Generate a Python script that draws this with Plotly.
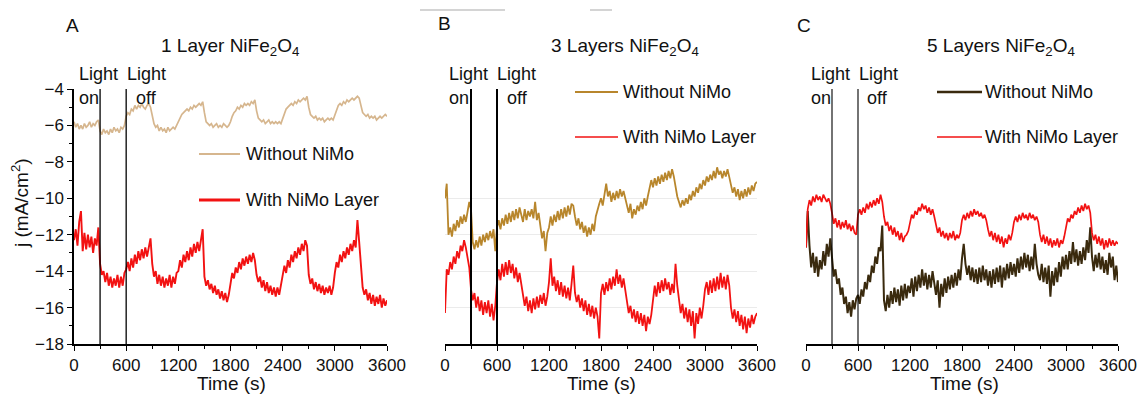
import plotly.graph_objects as go

W, H = 1140, 394

# ---------------- data ----------------
t = list(range(0, 3601, 20))  # time (s), 20 s sampling
light_on, light_off = 300, 600
x_ticks = [0, 600, 1200, 1800, 2400, 3000, 3600]
y_ticks = [-18, -16, -14, -12, -10, -8, -6, -4]

# Panel A: 1 Layer NiFe2O4
a_without = [
    -5.8, -6.1, -5.9, -6.2, -6.0, -6.2, -5.9, -6.1, -6.0, -5.8, -6.1, -5.9, -6.0, -5.8, -5.7,
    -6.3, -6.5, -6.2, -6.4, -6.3, -6.5, -6.2, -6.4, -6.1, -6.3, -6.2, -6.4, -6.1, -6.2, -6.0,
    -5.5, -5.3, -5.4, -5.1, -5.2, -4.9, -5.1, -4.9, -5.0, -4.8, -5.0, -5.1, -4.9, -4.8, -5.0,
    -5.5, -5.9, -6.1, -6.0, -6.3, -6.1, -6.3, -6.2, -6.4, -6.1, -6.3, -6.2, -6.1, -6.2, -6.0,
    -5.8, -5.6, -5.4, -5.3, -5.2, -5.1, -5.2, -5.0, -5.1, -4.9, -5.0, -4.9, -4.8, -4.9, -4.7,
    -5.3, -5.8, -5.9, -6.0, -5.9, -6.1, -6.0, -5.9, -6.1, -6.0, -6.1, -5.9, -6.0, -6.1, -6.0,
    -5.8, -5.5, -5.3, -5.2, -5.0, -5.1, -4.9, -5.0, -4.8, -4.9, -4.8, -4.9, -4.7, -4.8, -4.6,
    -5.2, -5.6, -5.7, -5.8, -5.7, -5.9, -5.8, -5.7, -5.9, -5.8, -5.9, -5.8, -5.9, -5.8, -5.9,
    -5.6, -5.3, -5.1, -5.0, -4.9, -4.8, -4.9, -4.7, -4.8, -4.6, -4.7, -4.6, -4.5, -4.6, -4.4,
    -5.0, -5.4, -5.5, -5.6, -5.5, -5.7, -5.6, -5.7, -5.6, -5.8, -5.7, -5.6, -5.7, -5.6, -5.7,
    -5.4, -5.1, -4.9, -4.8, -4.9, -4.7, -4.8, -4.6, -4.7, -4.6, -4.5, -4.6, -4.5, -4.4, -4.5,
    -4.9, -5.3, -5.4, -5.5, -5.4, -5.6, -5.5, -5.6, -5.5, -5.7, -5.6, -5.5, -5.6, -5.5, -5.4,
    -5.5,
]
a_with = [
    -12.3, -11.7, -12.6, -11.3, -10.7, -12.9, -11.9, -12.8, -12.0, -12.7, -12.1, -13.0, -12.2, -12.6, -11.6,
    -13.6, -14.2, -14.0, -14.6, -14.1, -14.8, -14.3, -14.9, -14.4, -14.8, -14.2, -14.9, -14.3, -14.8, -14.1,
    -13.9, -13.5, -14.0, -13.3, -13.8, -13.1, -13.6, -12.9, -13.4, -12.8, -13.3, -12.7, -13.2, -12.6, -12.2,
    -13.6, -14.3, -14.0, -14.7, -14.2, -14.8, -14.3, -14.9, -14.4, -14.8, -14.2, -14.9, -14.3, -14.7, -14.1,
    -14.0, -13.4, -13.8, -13.1, -13.5, -12.9, -13.4, -12.7, -13.2, -12.5, -13.0, -12.4, -12.9, -12.3, -11.7,
    -14.3, -14.8, -14.5, -15.0, -14.7, -15.2, -14.8, -15.3, -15.0, -15.5, -15.1, -15.6, -15.2, -15.7, -15.3,
    -14.6, -14.1, -14.4, -13.8, -14.1, -13.5, -13.9, -13.3, -13.7, -13.2, -13.6, -13.1, -13.5, -13.0, -13.4,
    -14.2, -14.6, -14.3, -14.9, -14.5, -15.1, -14.6, -15.2, -14.8, -15.3, -14.9, -15.4, -14.9, -15.3, -14.8,
    -14.3, -13.7, -14.1, -13.4, -13.8, -13.1, -13.5, -12.9, -13.3, -12.7, -13.1, -12.5, -12.9, -12.3, -12.6,
    -14.2, -14.7, -14.4, -15.0, -14.6, -15.1, -14.7, -15.2, -14.8, -15.3, -14.9, -15.2, -14.8, -15.3, -14.9,
    -14.1, -13.5, -13.8, -13.1, -13.5, -12.9, -13.3, -12.7, -13.1, -12.5, -12.9, -12.3, -12.7, -11.2, -12.4,
    -13.5, -14.9, -15.3, -15.0, -15.6, -15.2, -15.8, -15.3, -15.9, -15.4, -15.8, -15.3, -16.0, -15.5, -15.9,
    -15.6,
]

# Panel B: 3 Layers NiFe2O4
b_without = [
    -10.0, -9.2, -12.0, -11.6, -12.1, -11.4, -11.8, -11.2, -11.6, -11.0, -11.4, -10.9, -11.3, -10.8, -10.2,
    -10.6, -12.4, -12.8, -12.3, -12.7, -12.1, -12.6, -12.0, -12.4, -11.9, -12.3, -11.8, -12.2, -11.7, -12.9,
    -11.6, -11.2, -11.7, -11.1, -11.5, -10.9, -11.4, -10.8, -11.3, -10.7, -11.2, -10.6, -11.1, -10.5, -10.9,
    -11.3, -10.6, -11.2, -10.7, -11.0, -10.6, -11.1, -10.2, -11.2, -10.8, -11.4, -12.2, -11.8, -12.9, -11.9,
    -11.6, -11.0, -11.5, -10.9, -11.3, -10.7, -11.2, -10.6, -11.1, -10.5, -11.0, -10.4, -10.9, -10.3, -10.4,
    -11.0, -11.5, -11.1, -11.7, -11.3, -11.9, -11.5, -12.1, -11.6, -12.0, -11.4, -11.8, -11.0, -10.6, -10.3,
    -10.0, -10.4, -9.8, -9.2, -9.9, -9.6, -10.2, -9.7, -10.1, -9.6, -10.0, -9.5, -9.9, -9.6, -10.0,
    -10.4, -10.8, -10.3, -11.1, -10.6, -10.9, -10.4, -10.7, -10.2, -10.6, -10.0, -10.4, -9.9, -9.4, -9.0,
    -9.4, -8.9, -9.3, -8.8, -9.2, -8.7, -9.1, -8.6, -9.0, -8.5, -8.9, -8.4, -8.8, -9.5, -9.9,
    -10.2, -10.5, -10.1, -10.4, -10.0, -10.3, -9.8, -10.1, -9.6, -9.9, -9.4, -9.7, -9.2, -9.5, -9.0,
    -9.3, -8.8, -9.1, -8.7, -9.0, -8.5, -8.9, -8.3, -8.7, -8.5, -8.9, -8.5, -8.8, -8.4, -8.9,
    -9.2, -9.7, -9.4, -9.9, -9.5, -10.1, -9.6, -10.0, -9.5, -9.9, -9.4, -9.8, -9.3, -9.6, -9.2,
    -9.1,
]
b_with = [
    -16.3, -13.9, -14.2, -13.5, -13.9, -13.2, -13.6, -12.9, -13.3, -12.6, -12.9, -12.3, -12.7, -13.2, -13.8,
    -15.0, -15.6, -15.2, -16.0, -15.4, -16.2, -15.6, -16.4, -15.7, -16.3, -15.6, -16.5, -15.8, -16.7, -15.9,
    -14.6, -13.9, -14.5, -13.6, -14.3, -13.5, -14.2, -13.4, -14.1, -13.6, -14.4, -13.8, -14.6, -14.1, -14.8,
    -15.3, -15.9, -15.4, -16.2, -15.6, -16.3, -15.5, -16.1, -15.4, -16.0, -15.3, -15.8, -15.2, -15.9, -15.4,
    -14.6, -13.3, -14.8, -14.3, -15.1, -14.5, -15.3, -14.6, -15.4, -14.8, -15.5, -14.9, -15.6, -14.7, -13.7,
    -15.2, -15.7, -15.3, -16.0, -15.5, -16.2, -15.6, -16.4, -15.8, -16.5, -15.9, -16.6, -16.0, -16.5, -17.7,
    -15.2, -14.7, -15.3, -14.6, -15.1, -14.4, -15.0, -14.3, -14.8, -13.9, -14.7, -14.2, -14.9, -14.4, -15.0,
    -15.8, -16.3, -15.9, -16.6, -16.1, -16.8, -16.2, -16.9, -16.3, -17.0, -16.4, -17.3, -16.5, -16.9, -16.4,
    -15.5, -14.8, -15.4, -14.6, -15.2, -14.5, -15.1, -14.4, -15.0, -14.6, -15.3, -14.7, -15.2, -13.6, -14.8,
    -15.7, -16.3, -15.8, -16.6, -16.0, -16.8, -16.1, -17.0, -16.2, -17.7, -16.3, -16.9, -16.0, -16.6, -15.9,
    -15.0, -14.6, -15.3, -14.5, -15.2, -14.4, -15.1, -14.3, -15.0, -14.1, -14.9, -14.3, -15.0, -14.2, -14.8,
    -16.0, -16.6, -16.1, -16.8, -16.2, -17.0, -16.4, -17.2, -16.5, -17.4, -16.6, -17.1, -16.4, -16.9, -16.5,
    -16.3,
]

# Panel C: 5 Layers NiFe2O4
c_without = [
    -12.7, -10.7, -12.6, -13.8, -13.0, -14.1, -13.2, -14.3, -13.4, -13.9, -12.9, -13.7, -12.5, -13.2, -12.2,
    -13.5, -14.3, -13.9, -14.7, -14.4, -15.3, -14.9, -15.8, -15.4, -16.3, -15.7, -16.5, -15.6, -16.1, -15.5,
    -15.3, -15.8, -15.0, -15.4, -14.6, -15.0, -14.2, -14.6, -13.7, -14.1, -13.2, -13.6, -12.7, -12.9, -11.5,
    -15.6, -16.2, -15.3, -16.0, -15.1, -15.8, -14.9, -15.7, -15.0, -15.9, -14.8, -15.6, -14.7, -15.5, -14.8,
    -15.2, -14.4, -15.4, -14.3, -15.1, -14.2, -14.9, -13.9, -14.8, -14.1, -15.0, -14.2, -14.9, -14.0, -14.6,
    -15.3, -14.5, -16.0, -14.7, -15.4, -14.4, -15.2, -14.3, -15.0, -14.2, -14.9, -14.1, -14.8, -13.9, -14.5,
    -13.3, -12.5, -13.6, -14.2, -13.7, -14.5, -13.8, -14.6, -13.9, -14.7, -13.8, -14.6, -13.7, -14.5, -13.9,
    -14.8, -14.0, -14.9, -13.9, -14.7, -13.8, -14.6, -13.7, -14.9, -13.8, -14.5, -13.6, -14.4, -13.5, -14.2,
    -13.6, -14.3, -13.3, -14.1, -13.2, -13.9, -13.0, -13.8, -13.1, -14.0, -13.2, -13.9, -12.5, -13.6, -14.2,
    -14.5, -13.6, -14.6, -13.8, -14.7, -13.7, -15.4, -14.0, -14.8, -13.8, -14.6, -13.5, -14.3, -13.2, -13.9,
    -13.1, -13.9, -12.9, -13.6, -12.4, -13.5, -12.8, -13.7, -12.9, -13.6, -12.7, -13.4, -12.3, -13.0, -11.6,
    -13.2, -14.0, -13.1, -13.8, -13.0, -13.9, -13.2, -14.1, -13.4, -14.2, -13.0, -13.8, -13.2, -14.5, -13.7,
    -14.6,
]
c_with = [
    -12.7, -10.6, -10.1, -10.4, -9.9, -10.2, -9.8, -10.1, -9.9, -10.2, -9.8, -10.0, -10.2, -10.0, -10.3,
    -10.8, -11.4, -11.1, -11.6, -11.2, -11.7, -11.3, -11.6, -11.2, -11.7, -11.4, -11.8, -11.5, -11.9, -12.0,
    -10.9, -10.6, -10.9, -10.5, -10.8, -10.3, -10.6, -10.2, -10.5, -10.1, -10.4, -10.0, -10.3, -9.8, -10.2,
    -11.0, -11.5, -11.3, -11.8, -11.5, -12.0, -11.6, -12.1, -11.8, -12.3, -11.9, -12.4, -12.1, -12.0, -11.8,
    -11.3, -10.9, -11.1, -10.7, -10.9, -10.5, -10.7, -10.3, -10.6, -10.4, -10.8, -10.5, -10.9, -10.6, -11.0,
    -11.5, -11.9, -11.6, -12.1, -11.8, -12.2, -11.9, -12.3, -11.9, -12.2, -11.8, -12.3, -12.0, -12.2, -11.9,
    -11.2, -10.9, -11.2, -10.8, -11.1, -10.7, -11.0, -10.6, -10.9, -10.7, -11.0, -10.8, -11.1, -10.9, -11.2,
    -11.7, -12.1, -11.8, -12.3, -11.9, -12.4, -12.0, -12.5, -12.1, -12.7, -12.2, -12.5, -12.0, -12.3, -11.9,
    -11.3, -11.0, -11.3, -10.9, -11.2, -10.8, -11.1, -10.9, -11.2, -10.8, -11.1, -10.9, -11.2, -11.0, -11.3,
    -12.0, -12.4, -12.0, -12.5, -12.1, -12.6, -12.2, -12.7, -12.3, -12.6, -12.2, -12.7, -12.3, -12.5, -12.1,
    -11.5, -11.1, -11.3, -10.9, -11.1, -10.7, -10.9, -10.5, -10.8, -10.4, -10.7, -10.3, -10.6, -10.4, -10.8,
    -11.9, -12.3, -12.0, -12.5, -12.1, -12.6, -12.2, -12.8, -12.3, -12.7, -12.2, -12.6, -12.3, -12.6, -12.4,
    -12.5,
]

for s in (a_without, a_with, b_without, b_with, c_without, c_with):
    assert len(s) == len(t), len(s)

panel_titles = ["1 Layer NiFe<sub>2</sub>O<sub>4</sub>",
                "3 Layers NiFe<sub>2</sub>O<sub>4</sub>",
                "5 Layers NiFe<sub>2</sub>O<sub>4</sub>"]
panel_letters = ["A", "B", "C"]
legend_labels = ["Without NiMo", "With NiMo Layer"]

# ---------------- style ----------------
FONT = "Liberation Sans, Arial, sans-serif"
TXT = "#111111"
TAN = "#d6b68e"
GOLD = "#b8862c"
DARK = "#3a2a0e"
RED = "#f21212"


def px(x):
    return x / W


def py(y):
    return 1 - y / H


ydom = [py(344), py(89)]
xdoms = [[px(74), px(387)], [px(445), px(757)], [px(806), px(1118)]]

fig = go.Figure()
series = [
    (a_without, TAN, 1.7, "x", "y"),
    (a_with, RED, 1.9, "x", "y"),
    (b_without, GOLD, 1.8, "x2", "y2"),
    (b_with, RED, 1.8, "x2", "y2"),
    (c_without, DARK, 2.0, "x3", "y3"),
    (c_with, RED, 1.7, "x3", "y3"),
]
for ys, col, lw, xa, ya in series:
    fig.add_trace(go.Scatter(x=t, y=ys, mode="lines", line=dict(color=col, width=lw),
                             xaxis=xa, yaxis=ya, showlegend=False, hoverinfo="skip"))

xcommon = dict(range=[0, 3600], automargin=False, showline=True, linecolor="black", linewidth=1.5,
               ticks="outside", ticklen=5, tickwidth=1.3, tickcolor="black",
               tickmode="array", tickvals=x_ticks,
               minor=dict(ticks="outside", ticklen=3, tickwidth=1.1, tickcolor="black", dtick=300, tick0=0),
               showgrid=False, zeroline=False,
               tickfont=dict(family=FONT, size=17, color=TXT))
layout = dict(
    width=W, height=H, autosize=False, margin=dict(l=0, r=0, t=0, b=0, pad=0),
    paper_bgcolor="white", plot_bgcolor="rgba(0,0,0,0)",
    font=dict(family=FONT, color=TXT),
    xaxis=dict(domain=xdoms[0], anchor="y", **xcommon),
    xaxis2=dict(domain=xdoms[1], anchor="y2", **xcommon),
    xaxis3=dict(domain=xdoms[2], anchor="y3", **xcommon),
    yaxis=dict(domain=ydom, anchor="x", range=[-18, -4], automargin=False,
               showline=True, linecolor="black", linewidth=1.5,
               ticks="outside", ticklen=5, tickwidth=1.3, tickcolor="black",
               tickmode="array", tickvals=y_ticks,
               minor=dict(ticks="outside", ticklen=3, tickwidth=1.1, tickcolor="black", dtick=1, tick0=0),
               showgrid=False, zeroline=False,
               tickfont=dict(family=FONT, size=17, color=TXT)),
    yaxis2=dict(domain=ydom, anchor="x2", range=[-18, -4], automargin=False,
                showline=False, showticklabels=False,
                ticks="", tickmode="array", tickvals=[-16, -14, -12, -10],
                showgrid=True, gridcolor="#ebebeb", gridwidth=1, zeroline=False),
    yaxis3=dict(domain=ydom, anchor="x3", range=[-18, -4], automargin=False,
                showline=False, showticklabels=False,
                ticks="", showgrid=False, zeroline=False),
)
fig.update_layout(**layout)

# light on/off vertical lines
shapes = []
for xr, yr, lw in (("x", "y", 1.3), ("x2", "y2", 2.0), ("x3", "y3", 1.1)):
    for tv in (light_on, light_off):
        shapes.append(dict(type="line", xref=xr, yref=yr, x0=tv, x1=tv, y0=-18, y1=-4,
                           line=dict(color="black", width=lw)))

annotations = []


def ann(text, x, y, size, xanchor="center", yanchor="middle", angle=0):
    annotations.append(dict(text=text, x=px(x), y=py(y), xref="paper", yref="paper",
                            xanchor=xanchor, yanchor=yanchor, showarrow=False, textangle=angle,
                            font=dict(family=FONT, size=size, color=TXT)))


# panel letters and titles
for letter, (lx, ly) in zip(panel_letters, [(72, 25), (444, 23), (804, 25)]):
    ann(letter, lx, ly, 19)
for title, tx in zip(panel_titles, [230, 625, 1001]):
    ann(title, tx, 47, 19)

# Light on / Light off labels
for l1, l2, on_x, off_x in [(78, 126, 78, 135), (448, 496, 448, 506), (810, 858, 810, 866)]:
    ann("Light", l1 - 1, 74, 18, xanchor="left")
    ann("Light", l2 - 1, 74, 18, xanchor="left")
    ann("on", on_x - 1, 98, 18, xanchor="left")
    ann("off", off_x - 1, 98, 18, xanchor="left")

# legends
legend_specs = [
    ((199, 240), (154, 200), 245, (TAN, RED), (1.8, 3.0)),
    ((575, 618), (92, 137), 622, (GOLD, RED), (2.2, 1.6)),
    ((937, 982), (92, 137), 984, (DARK, RED), (2.6, 1.6)),
]
for (lx0, lx1), ys, tx, cols, lws in legend_specs:
    for lab, yy, col, lw in zip(legend_labels, ys, cols, lws):
        shapes.append(dict(type="line", xref="paper", yref="paper", x0=px(lx0), x1=px(lx1),
                           y0=py(yy), y1=py(yy), line=dict(color=col, width=lw)))
        ann(lab, tx - 1, yy, 18, xanchor="left")

# axis titles
ann("j (mA/cm<sup>2</sup>)", 20, 203, 19, angle=-90)
for cx in (231, 601, 964):
    ann("Time (s)", cx, 383, 19)

# faint scan artefact above panel B
for x0, x1 in ((420, 505), (590, 612)):
    shapes.append(dict(type="line", xref="paper", yref="paper", x0=px(x0), x1=px(x1),
                       y0=py(10), y1=py(10), line=dict(color="#d4d4d4", width=2)))

fig.update_layout(shapes=shapes, annotations=annotations)
fig.write_html("out.html")
